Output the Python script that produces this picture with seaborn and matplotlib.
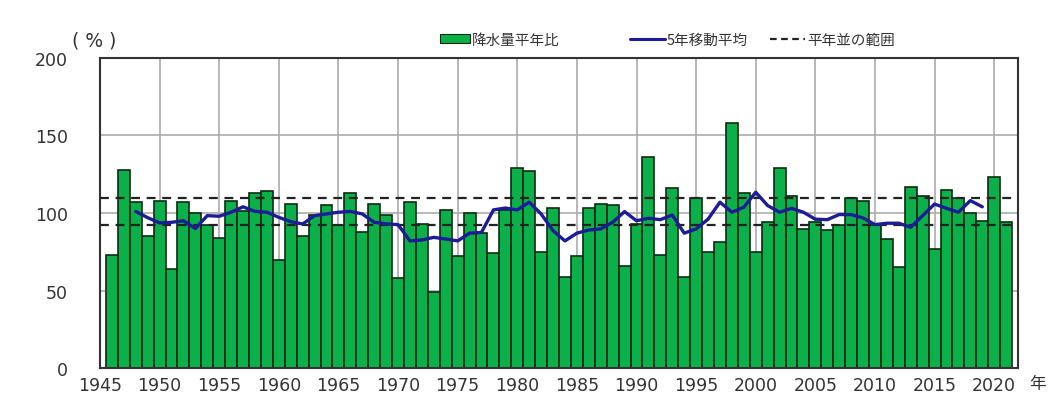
import matplotlib
matplotlib.use("Agg")
import matplotlib.pyplot as plt
import seaborn as sns
import pandas as pd
from matplotlib.patches import Patch
from matplotlib.lines import Line2D

# Annual precipitation ratio to normal (%), 1946-2021
years = list(range(1946, 2022))
ratio = [
    73, 128, 107, 85, 108, 64, 107, 100, 92, 84,
    108, 101, 113, 114, 70, 106, 85, 99, 105, 92,
    113, 88, 106, 99, 58, 107, 93, 49, 102, 72,
    100, 87, 74, 102, 129, 127, 75, 103, 59, 72,
    103, 106, 105, 66, 93, 136, 73, 116, 59, 110,
    75, 81, 158, 113, 75, 94, 129, 111, 90, 94,
    89, 92, 110, 108, 92, 83, 65, 117, 111, 77,
    115, 110, 100, 95, 123, 94,
]

# 5-year moving average, 1948-2019
ma_years = list(range(1948, 2020))
ma_values = [
    101, 97, 93.6, 94, 95, 90, 98.3, 97.9, 100.5, 104,
    101, 100.5, 97.2, 94.4, 92.9, 98.3, 99.4, 100.5, 101, 99.4,
    94, 93, 92.5, 82, 82.6, 84.3, 83.2, 82, 87, 87.5,
    102, 103.2, 102, 107, 99.4, 88.6, 82, 87, 89, 89.7,
    94, 100.9, 95, 96.6, 95.7, 98.7, 87, 89.7, 96, 107,
    100.5, 103.7, 113.4, 104.8, 100.5, 103, 100.5, 96, 95.7, 99,
    99, 96.8, 92.5, 93.4, 93.4, 90.8, 98.3, 105.8, 103, 100.5,
    108, 104,
]

# normal range
normal_low = 92
normal_high = 110

yticks = [0, 50, 100, 150, 200]
xticks = list(range(1945, 2021, 5))

bar_color = "#0cb04a"
line_color = "#1c1c96"
text_color = "#333333"

sns.set_style("white")
plt.rcParams["font.family"] = ["Noto Sans CJK JP", "DejaVu Sans"]

df = pd.DataFrame({"year": years, "ratio": ratio})
ma = pd.DataFrame({"year": ma_years, "ma": ma_values})

fig = plt.figure(figsize=(10.48, 4.06), dpi=100)
ax = fig.add_axes([0.0954, 0.0911, 0.876, 0.7636])

ax.grid(True, color="#ababab", linewidth=1.2)
ax.set_axisbelow(True)

sns.barplot(data=df, x="year", y="ratio", native_scale=True, width=1.0,
            color=bar_color, edgecolor="#0b2a12", linewidth=1.2,
            saturation=1, ax=ax)

ax.axhline(normal_high, color="#222222", linestyle=(0, (4, 3)), linewidth=1.6, zorder=4)
ax.axhline(normal_low, color="#222222", linestyle=(0, (4, 3)), linewidth=1.6, zorder=4)

sns.lineplot(data=ma, x="year", y="ma", color=line_color, linewidth=2.4,
             ax=ax, zorder=5)

ax.set_xlim(1945, 2022)
ax.set_ylim(0, 200)
ax.set_xticks(xticks)
ax.set_yticks(yticks)
ax.tick_params(axis="x", labelsize=12.5, length=0, pad=6)
ax.tick_params(axis="y", labelsize=12.5, length=0, pad=23)
for lab in ax.get_xticklabels() + ax.get_yticklabels():
    lab.set_family("DejaVu Sans")
    lab.set_color(text_color)
ax.set_xlabel("")
ax.set_ylabel("")
for s in ax.spines.values():
    s.set_visible(True)
    s.set_color(text_color)
    s.set_linewidth(1.5)

fig.text(0.069, 0.9, "( % )", fontsize=13.5, va="center", color=text_color,
         family="DejaVu Sans")
fig.text(0.982, 0.054, "年", fontsize=12, va="center", color=text_color)

# legend entries placed one by one along the top
entries = [
    (Patch(facecolor=bar_color, edgecolor="#0b2a12", linewidth=0.8),
     "降水量平年比", 0.42, 2.05),
    (Line2D([0], [0], color=line_color, linewidth=2.2),
     "5年移動平均", 0.601, 2.4),
    (Line2D([0], [0], color="#222222", linestyle=(0, (3, 2)), linewidth=1.6),
     "平年並の範囲", 0.735, 2.4),
]
for handle, label, xpos, hlen in entries:
    leg = fig.legend([handle], [label], loc="center left",
                     bbox_to_anchor=(xpos, 0.9), frameon=False, fontsize=10.5,
                     handlelength=hlen, handleheight=0.5, handletextpad=0.15,
                     borderpad=0, borderaxespad=0)
    for t in leg.get_texts():
        t.set_color(text_color)

fig.savefig("out.png", dpi=100)
